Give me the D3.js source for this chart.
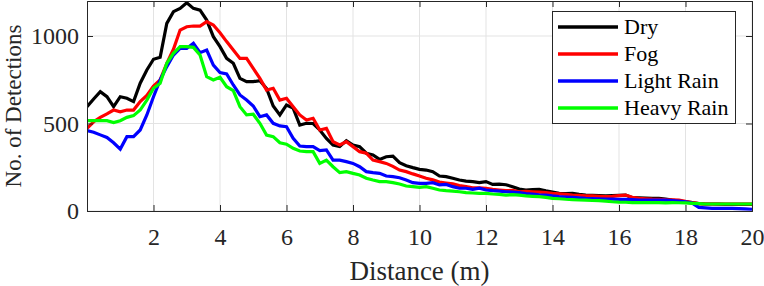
<!DOCTYPE html>
<html><head><meta charset="utf-8">
<script src="https://cdn.jsdelivr.net/npm/d3@7"></script>
<style>
html,body{margin:0;padding:0;background:#fff;}
svg{display:block;}
</style></head>
<body><svg id="c" width="764" height="286"></svg>
<script>
const distance = d3.range(0, 20.001, 0.2).map(v => +v.toFixed(1));
const dry = [596,640,682,653,596,653,644,625,730,806,867,878,1072,1139,1158,1190,1158,1148,1091,996,939,872,844,758,739,739,745,700,600,549,606,588,491,501,500,463,415,377,368,402,377,368,330,320,295,310,314,276,259,248,238,234,225,200,196,187,177,171,168,162,168,152,154,150,139,125,120,122,124,115,108,101,100,101,95,91,90,88,86,88,90,91,76,75,74,73,72,68,62,57,53,48,42,40,40,39,38,38,38,38,38];
const fog = [472,510,535,555,577,567,577,577,625,660,714,749,844,924,1034,1053,1057,1057,1082,1063,1019,968,920,872,872,815,758,691,701,634,644,596,549,520,530,463,472,396,377,396,368,339,330,291,282,272,255,234,225,212,200,187,178,165,160,155,145,139,132,132,130,124,120,116,118,110,112,110,108,105,101,98,95,91,90,87,86,84,82,84,88,91,78,72,70,68,67,65,64,63,55,48,42,40,40,40,40,40,40,40,40];
const lightRain = [459,450,435,420,390,354,425,425,463,549,653,749,825,891,929,929,958,905,920,834,791,783,720,663,634,600,539,549,501,486,482,415,371,368,368,345,349,291,291,282,272,253,225,219,215,200,196,190,177,162,158,158,162,149,152,139,130,130,124,130,120,116,114,110,108,105,100,97,93,91,86,82,80,78,75,72,71,70,68,68,67,67,65,63,63,63,63,62,60,57,52,45,21,18,15,15,15,15,14,12,10];
const heavyRain = [516,516,516,516,505,516,535,545,577,634,701,730,844,901,939,939,935,891,768,749,764,710,688,596,549,553,501,434,425,390,382,358,343,339,339,272,291,253,219,225,215,206,187,177,168,168,162,154,143,139,135,139,130,120,116,114,110,105,103,101,101,97,95,91,93,91,86,84,82,78,72,70,67,65,63,62,60,59,56,53,51,50,48,48,48,48,48,47,48,47,46,44,42,40,40,40,40,40,40,40,40];
const seriesNames = ["Dry","Fog","Light Rain","Heavy Rain"];
const seriesColors = ["#000000","#ff0000","#0000ff","#00ff00"];
const xTicks = [2,4,6,8,10,12,14,16,18,20];
const yTicks = [0,500,1000];

const FONT = "'Liberation Serif','Times New Roman',serif";
const allSeries = [dry, fog, lightRain, heavyRain];
const svg = d3.select("#c");
const L = 87, R = 752, T = 1, B = 211;
const x = d3.scaleLinear().domain([0, 20]).range([L, R]);
const y = d3.scaleLinear().domain([0, 1200]).range([B, T]);
const axisCol = "#262626";

svg.append("defs").append("clipPath").attr("id","clip")
  .append("rect").attr("x",L).attr("y",T).attr("width",R-L).attr("height",B-T);

// grid
const g = svg.append("g");
g.selectAll(".gx").data(xTicks).join("line")
  .attr("x1",d=>x(d)).attr("x2",d=>x(d)).attr("y1",T).attr("y2",B)
  .attr("stroke","#e3e3e3").attr("stroke-width",1);
g.selectAll(".gy").data(yTicks).join("line")
  .attr("x1",L).attr("x2",R).attr("y1",d=>y(d)).attr("y2",d=>y(d))
  .attr("stroke","#e3e3e3").attr("stroke-width",1);

// lines
const line = d3.line().x((d,i)=>x(distance[i])).y(d=>y(d));
const lg = svg.append("g").attr("clip-path","url(#clip)");
allSeries.forEach((s,k)=>{
  lg.append("path").datum(s).attr("d",line).attr("fill","none")
    .attr("stroke",seriesColors[k]).attr("stroke-width",3.2)
    .attr("stroke-linejoin","miter");
});

// axes
const tl = 6;
const xb = svg.append("g").attr("transform",`translate(0,${B})`)
  .call(d3.axisBottom(x).tickValues(xTicks).tickSize(-tl).tickPadding(17).tickFormat(d3.format("d")));
const xt = svg.append("g").attr("transform",`translate(0,${T})`)
  .call(d3.axisTop(x).tickValues(xTicks).tickSize(-tl).tickFormat(""));
const yl = svg.append("g").attr("transform",`translate(${L},0)`)
  .call(d3.axisLeft(y).tickValues(yTicks).tickSize(-tl).tickPadding(8).tickFormat(d3.format("d")));
const yr = svg.append("g").attr("transform",`translate(${R},0)`)
  .call(d3.axisRight(y).tickValues(yTicks).tickSize(-tl).tickFormat(""));
[xb,xt,yl,yr].forEach(a=>{
  a.select(".domain").attr("stroke",axisCol).attr("stroke-width",1);
  a.selectAll(".tick line").attr("stroke",axisCol);
  a.selectAll("text").attr("fill","#262626").style("font-size","24px")
    .style("font-family",FONT);
});
yl.selectAll("text").attr("dy","0.33em");

// axis labels
svg.append("text").attr("x",(L+R)/2).attr("y",280).attr("text-anchor","middle")
  .style("font-family",FONT).style("font-size","27px").attr("fill","#262626").text("Distance (m)");
svg.append("text").attr("transform",`translate(21,${(T+B)/2}) rotate(-90)`)
  .attr("text-anchor","middle").style("font-family",FONT).style("font-size","23px").attr("fill","#262626")
  .text("No. of Detections");

// legend
const leg = svg.append("g");
leg.append("rect").attr("x",552.5).attr("y",11.5).attr("width",183).attr("height",112)
  .attr("fill","#fff").attr("stroke",axisCol).attr("stroke-width",1);
seriesNames.forEach((n,k)=>{
  const yy = 27 + k*27;
  leg.append("line").attr("x1",558).attr("x2",618).attr("y1",yy).attr("y2",yy)
    .attr("stroke",seriesColors[k]).attr("stroke-width",3.5);
  leg.append("text").attr("x",624).attr("y",yy+7).style("font-family",FONT).style("font-size","22px")
    .attr("fill","#000").text(n);
});
</script></body></html>
